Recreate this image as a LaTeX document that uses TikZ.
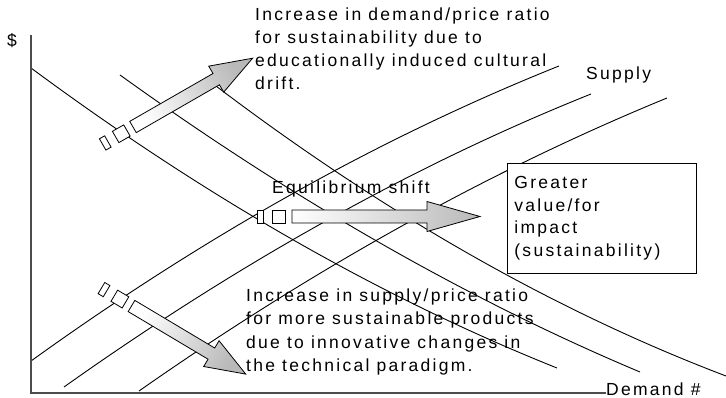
\documentclass[tikz,border=0pt]{standalone}
\usepackage{fontspec}
\setmainfont{Liberation Sans}
\newfontfamily\labfont[LetterSpace=13]{Liberation Sans}
\begin{document}
\begin{tikzpicture}[x=1pt,y=-1pt,
  curveline/.style={draw=black, line width=0.9pt},
  axisline/.style={draw=black!70, line cap=rect},
  lab/.style={font=\labfont\fontsize{17.5}{23}\selectfont, inner sep=0pt, align=left, anchor=base west, text=black},
  boxtag/.style={draw=black, line width=0.8pt, fill=white},
  pics/sarrow/.style n args={3}{code={
    \draw[boxtag] (-35,-6.5) rectangle (-29,6.5);
    \draw[boxtag] (-20,-6.5) rectangle (-7,6.5);
    \path[draw=black, line width=0.8pt, line join=miter, top color=gray!55, bottom color=white, shading angle=#3]
      (0,-6.5) -- (#1-#2,-6.5) -- (#1-#2,-15) -- (#1,0) -- (#1-#2,15) -- (#1-#2,6.5) -- (0,6.5) -- cycle;
  }}]
\useasboundingbox (0,0) rectangle (726,398);

% demand curves
\draw[curveline] (31,68) .. controls (206.7,198) and (382,298) .. (557,368);
\draw[curveline] (120,75) .. controls (294.7,200.7) and (468,299.7) .. (640,372);
\draw[curveline] (212,83) .. controls (383.4,213.3) and (554.7,310.9) .. (726,376);
% supply curves
\draw[curveline] (31,361) .. controls (205.6,235.3) and (381.6,136.9) .. (559,66);
\draw[curveline] (64,387) .. controls (240.8,261.5) and (416.5,163.8) .. (591,94);
\draw[curveline] (139,391) .. controls (314.9,267.9) and (490.9,170.2) .. (667,98);

% axes
\coordinate (O) at (31,393);
\coordinate (ytop) at (31,36);
\coordinate (xend) at (605,393);
\draw[axisline, line width=1.1pt] (ytop) -- (O);
\draw[axisline, line width=1.6pt] (O) -- (xend);
\node[lab, anchor=center] (dollar) at (12,41) {\$};
\node[lab] (demand) at (606,395) {Demand \#};
\node[lab] (supply) at (586,80) {Supply};

% value box
\node[boxtag, anchor=north west, minimum width=189pt, minimum height=110pt, text width=175pt,
  inner xsep=7pt, inner ysep=0pt, align=left, font=\labfont\fontsize{17.5}{22.5}\selectfont] (gv) at (507,163)
  {Greater\\value/for\\impact\\(sustainability)};

% texts (base anchor = baseline of last line)
\node[lab] (top) at (255,89.5) {Increase in demand/price ratio\\for sustainability due to\\educationally induced cultural\\drift.};
\node[lab] (eq) at (272,193.3) {Equilibrium shift};
\node[lab, font=\labfont\fontsize{17.5}{23.3}\selectfont] (bot) at (246,371.5) {Increase in supply/price ratio\\for more sustainable products\\due to innovative changes in\\the technical paradigm.};

% shaded arrows
\pic[shift={(133,127)}, rotate=29.9] {sarrow={138}{42}{-60.1}};
\pic[shift={(292,216.5)}] {sarrow={188}{53}{-90}};
\pic[shift={(131.5,306)}, rotate=-30.8] {sarrow={133}{40}{-120.8}};
\end{tikzpicture}
\end{document}
